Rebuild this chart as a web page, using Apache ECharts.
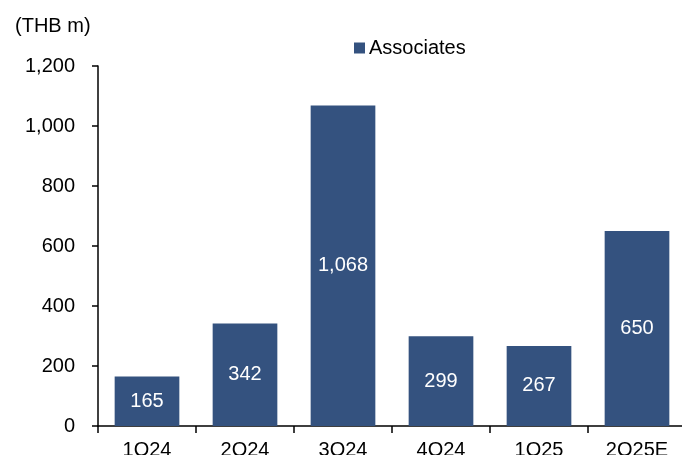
<!DOCTYPE html>
<html>
<head>
<meta charset="utf-8">
<script src="https://cdn.jsdelivr.net/npm/echarts@6/dist/echarts.min.js"></script>
<style>html,body{margin:0;padding:0;background:#fff;}#c{width:682px;height:455px;}</style>
</head>
<body>
<div id="c"></div>
<script>
var categories = ['1Q24', '2Q24', '3Q24', '4Q24', '1Q25', '2Q25E'];
var associates = [165, 342, 1068, 299, 267, 650];
var yTicks = [0, 200, 400, 600, 800, 1000, 1200];

var font = '"Liberation Sans", Arial, sans-serif';
var chart = echarts.init(document.getElementById('c'));
chart.setOption({
  animation: false,
  backgroundColor: '#ffffff',
  textStyle: { fontFamily: font },
  title: {
    text: '(THB m)', left: 10, top: 11,
    textStyle: { fontFamily: font, fontSize: 20, fontWeight: 'normal', color: '#000' }
  },
  legend: {
    data: ['Associates'], left: 349, top: 33,
    itemWidth: 11, itemHeight: 11, itemGap: 4,
    icon: 'rect',
    textStyle: { fontFamily: font, fontSize: 20, color: '#000', padding: [0, 0, 0, -1] }
  },
  grid: { left: 98, right: -4, top: 66, bottom: 29, containLabel: false, outerBoundsMode: 'none' },
  xAxis: {
    type: 'category', data: categories,
    axisLine: { lineStyle: { color: '#000', width: 1.5 } },
    axisTick: { show: true, length: 7, alignWithLabel: false, lineStyle: { color: '#000', width: 1.5 } },
    axisLabel: { color: '#000', fontSize: 20, fontFamily: font, margin: 14 }
  },
  yAxis: {
    type: 'value', min: yTicks[0], max: yTicks[yTicks.length - 1], interval: 200,
    axisLine: { show: true, lineStyle: { color: '#000', width: 1.5 } },
    axisTick: { show: true, length: 6, lineStyle: { color: '#000', width: 1.5 } },
    splitLine: { show: false },
    axisLabel: {
      color: '#000', fontSize: 20, fontFamily: font, margin: 23,
      formatter: function (v) { return v.toLocaleString('en-US'); }
    }
  },
  series: [{
    name: 'Associates', type: 'bar', data: associates,
    barWidth: '66%',
    itemStyle: { color: '#34527f' },
    label: {
      show: true, position: 'inside', color: '#fff', fontSize: 20, fontFamily: font,
      formatter: function (p) { return p.value.toLocaleString('en-US'); }
    }
  }]
});
</script>
</body>
</html>
